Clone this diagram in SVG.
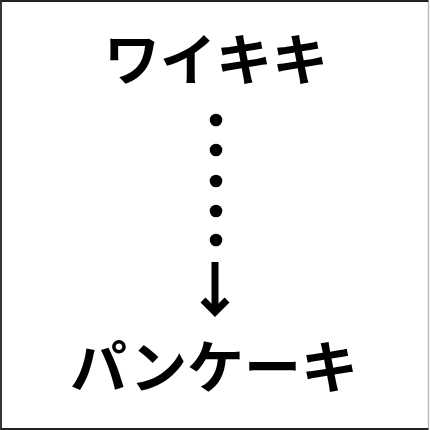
<svg xmlns="http://www.w3.org/2000/svg" width="430" height="430" viewBox="0 0 430 430">
<style>
.t{font-family:"Noto Sans CJK JP","Noto Sans CJK SC",sans-serif;font-weight:bold;fill:#000;text-anchor:middle}
.d{fill:#000}
</style>
<rect x="0" y="0" width="430" height="430" fill="#fff"/>
<path d="M428.5,1 V429" stroke="#bbb" stroke-width="1.5" fill="none"/>
<path d="M428.5,1 H1 V429 H428.5" stroke="#222" stroke-width="1.8" fill="none"/>
<g id="node-waikiki"><text class="t" x="216" y="80" font-size="56">ワイキキ</text></g>
<g id="node-pancake"><text class="t" x="214" y="388" font-size="57">パンケーキ</text></g>
<g id="connectors">
<circle class="d" cx="216" cy="120" r="6.3"/>
<circle class="d" cx="216" cy="150" r="6.3"/>
<circle class="d" cx="216" cy="181" r="6.3"/>
<circle class="d" cx="216" cy="211" r="6.3"/>
<circle class="d" cx="216" cy="240" r="6.3"/>
<line x1="215" y1="262" x2="215" y2="310" stroke="#000" stroke-width="7"/>
<polyline points="203,300 215,312 227,300" fill="none" stroke="#000" stroke-width="7" stroke-linejoin="miter"/>
</g>
</svg>
